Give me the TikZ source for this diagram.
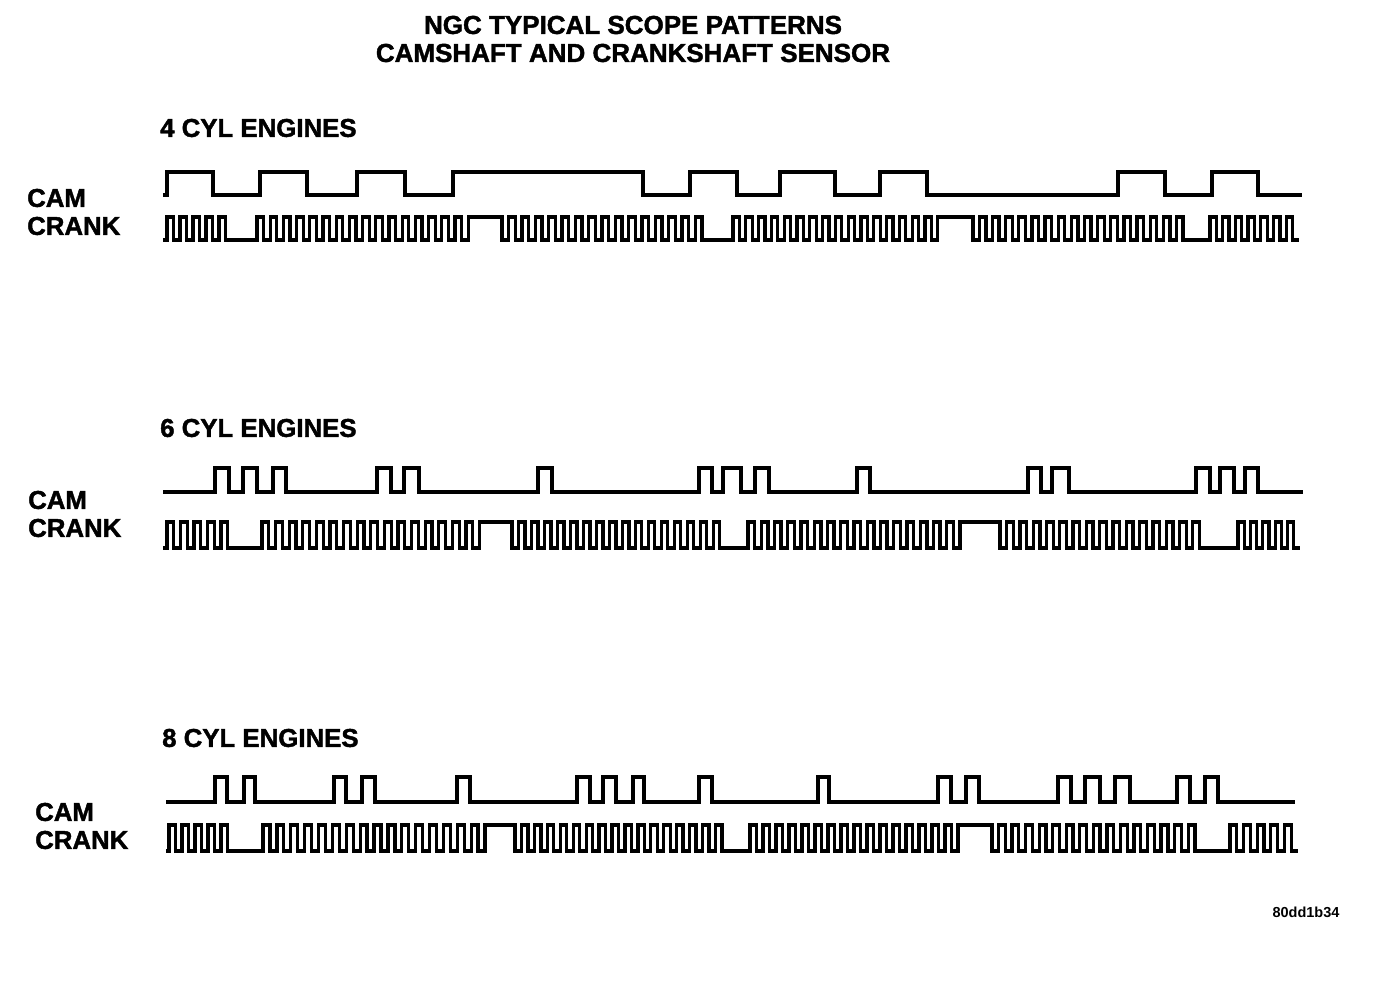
\documentclass[tikz,border=0pt]{standalone}
\usepackage{fontspec}
\setmainfont{Liberation Sans}
\newfontfamily\heavyfont{Liberation Sans}[BoldFeatures={FakeBold=1.6}]
\tikzset{
  wave/.style={line width=3.3pt, line join=miter, line cap=butt},
  lbl/.style={font=\heavyfont\fontsize{25.8}{30}\selectfont\bfseries, inner sep=0pt, anchor=west},
  ttl/.style={font=\heavyfont\fontsize{26}{30}\selectfont\bfseries, inner sep=0pt, anchor=center},
  code/.style={font=\fontsize{14.5}{18}\selectfont\bfseries, inner sep=0pt, anchor=center}
}
\begin{document}
\begin{tikzpicture}[x=1pt,y=-1pt]
\fill[white] (0,0) rectangle (1392,982);
\useasboundingbox (0,0) rectangle (1392,982);

% titles
\node[ttl] (t1) at (633,25) {NGC TYPICAL SCOPE PATTERNS};
\node[ttl] (t2) at (633,53) {CAMSHAFT AND CRANKSHAFT SENSOR};

% ---------------- 4 CYL ----------------
\node[lbl] (h4) at (160,128) {4 CYL ENGINES};
\node[lbl] (cam4) at (27,198) {CAM};
\node[lbl] (crank4) at (27,226) {CRANK};

\draw[wave] (163,195)
  \foreach \a/\b in {167/213, 260/307, 357/405, 453/643, 690/737, 780/835, 880/927, 1118/1165, 1212/1258}
  { -- (\a,195) -- (\a,172) -- (\b,172) -- (\b,195) } -- (1302,195);

\draw[wave] (163,240) -- (167,240)
  \foreach \i in {1,...,5}{ -- ++(0,-23) -- ++(6.5,0) -- ++(0,23) -- ++(6.5,0) }
  -- (257,240)
  \foreach \i in {1,...,16}{ -- ++(0,-23) -- ++(6.6,0) -- ++(0,23) -- ++(6.6,0) }
  -- ++(0,-23) -- (502,217) -- (502,240) -- ++(6.6,0)
  \foreach \i in {1,...,15}{ -- ++(0,-23) -- ++(6.67,0) -- ++(0,23) -- ++(6.67,0) }
  -- (733,240)
  \foreach \i in {1,...,16}{ -- ++(0,-23) -- ++(6.4,0) -- ++(0,23) -- ++(6.4,0) }
  -- ++(0,-23) -- (973,217) -- (973,240) -- ++(6.4,0)
  \foreach \i in {1,...,16}{ -- ++(0,-23) -- ++(6.57,0) -- ++(0,23) -- ++(6.57,0) }
  -- (1210,240)
  \foreach \i in {1,...,7}{ -- ++(0,-23) -- ++(6.35,0) -- ++(0,23) -- ++(6.35,0) };

% ---------------- 6 CYL ----------------
\node[lbl] (h6) at (160,428) {6 CYL ENGINES};
\node[lbl] (cam6) at (28,500) {CAM};
\node[lbl] (crank6) at (28,528) {CRANK};

\draw[wave] (163,492)
  \foreach \a/\b in {215/229, 243/257, 273/286, 377/391, 404/419, 538/552, 699/712, 723/741, 755/769, 857/870, 1028/1041, 1052/1069, 1196/1210, 1220/1234, 1245/1258}
  { -- (\a,492) -- (\a,468) -- (\b,468) -- (\b,492) } -- (1303,492);

\draw[wave] (163,548) -- (167,548)
  \foreach \i in {1,...,5}{ -- ++(0,-26) -- ++(6.75,0) -- ++(0,26) -- ++(6.75,0) }
  -- (262,548)
  \foreach \i in {1,...,16}{ -- ++(0,-26) -- ++(6.8,0) -- ++(0,26) -- ++(6.8,0) }
  -- ++(0,-26) -- (512,522) -- (512,548) -- ++(6.6,0)
  \foreach \i in {1,...,16}{ -- ++(0,-26) -- ++(6.485,0) -- ++(0,26) -- ++(6.485,0) }
  -- (748,548)
  \foreach \i in {1,...,16}{ -- ++(0,-26) -- ++(6.625,0) -- ++(0,26) -- ++(6.625,0) }
  -- ++(0,-26) -- (1000,522) -- (1000,548) -- ++(6.6,0)
  \foreach \i in {1,...,15}{ -- ++(0,-26) -- ++(6.65,0) -- ++(0,26) -- ++(6.65,0) }
  -- (1238,548)
  \foreach \i in {1,...,5}{ -- ++(0,-26) -- ++(6.2,0) -- ++(0,26) -- ++(6.2,0) };

% ---------------- 8 CYL ----------------
\node[lbl] (h8) at (162,738) {8 CYL ENGINES};
\node[lbl] (cam8) at (35,812) {CAM};
\node[lbl] (crank8) at (35,840) {CRANK};

\draw[wave] (166,802)
  \foreach \a/\b in {215/227, 244/255, 334/346, 362/375, 457/470, 577/590, 603/616, 633/644, 699/712, 818/829, 938/951, 966/979, 1058/1071, 1085/1100, 1115/1130, 1177/1190, 1205/1218}
  { -- (\a,802) -- (\a,777) -- (\b,777) -- (\b,802) } -- (1295,802);

\draw[wave] (166,851) -- (169,851)
  \foreach \i in {1,...,5}{ -- ++(0,-26) -- ++(6.5,0) -- ++(0,26) -- ++(6.5,0) }
  -- (263,851)
  \foreach \i in {1,...,16}{ -- ++(0,-26) -- ++(6.94,0) -- ++(0,26) -- ++(6.94,0) }
  -- ++(0,-26) -- (515,825) -- (515,851) -- ++(6.5,0)
  \foreach \i in {1,...,16}{ -- ++(0,-26) -- ++(6.465,0) -- ++(0,26) -- ++(6.465,0) }
  -- (750,851)
  \foreach \i in {1,...,16}{ -- ++(0,-26) -- ++(6.5,0) -- ++(0,26) -- ++(6.5,0) }
  -- ++(0,-26) -- (992,825) -- (992,851) -- ++(6.5,0)
  \foreach \i in {1,...,15}{ -- ++(0,-26) -- ++(6.775,0) -- ++(0,26) -- ++(6.775,0) }
  -- (1230,851)
  \foreach \i in {1,...,5}{ -- ++(0,-26) -- ++(6.8,0) -- ++(0,26) -- ++(6.8,0) };

\node[code] (id) at (1306,912) {80dd1b34};
\end{tikzpicture}
\end{document}
